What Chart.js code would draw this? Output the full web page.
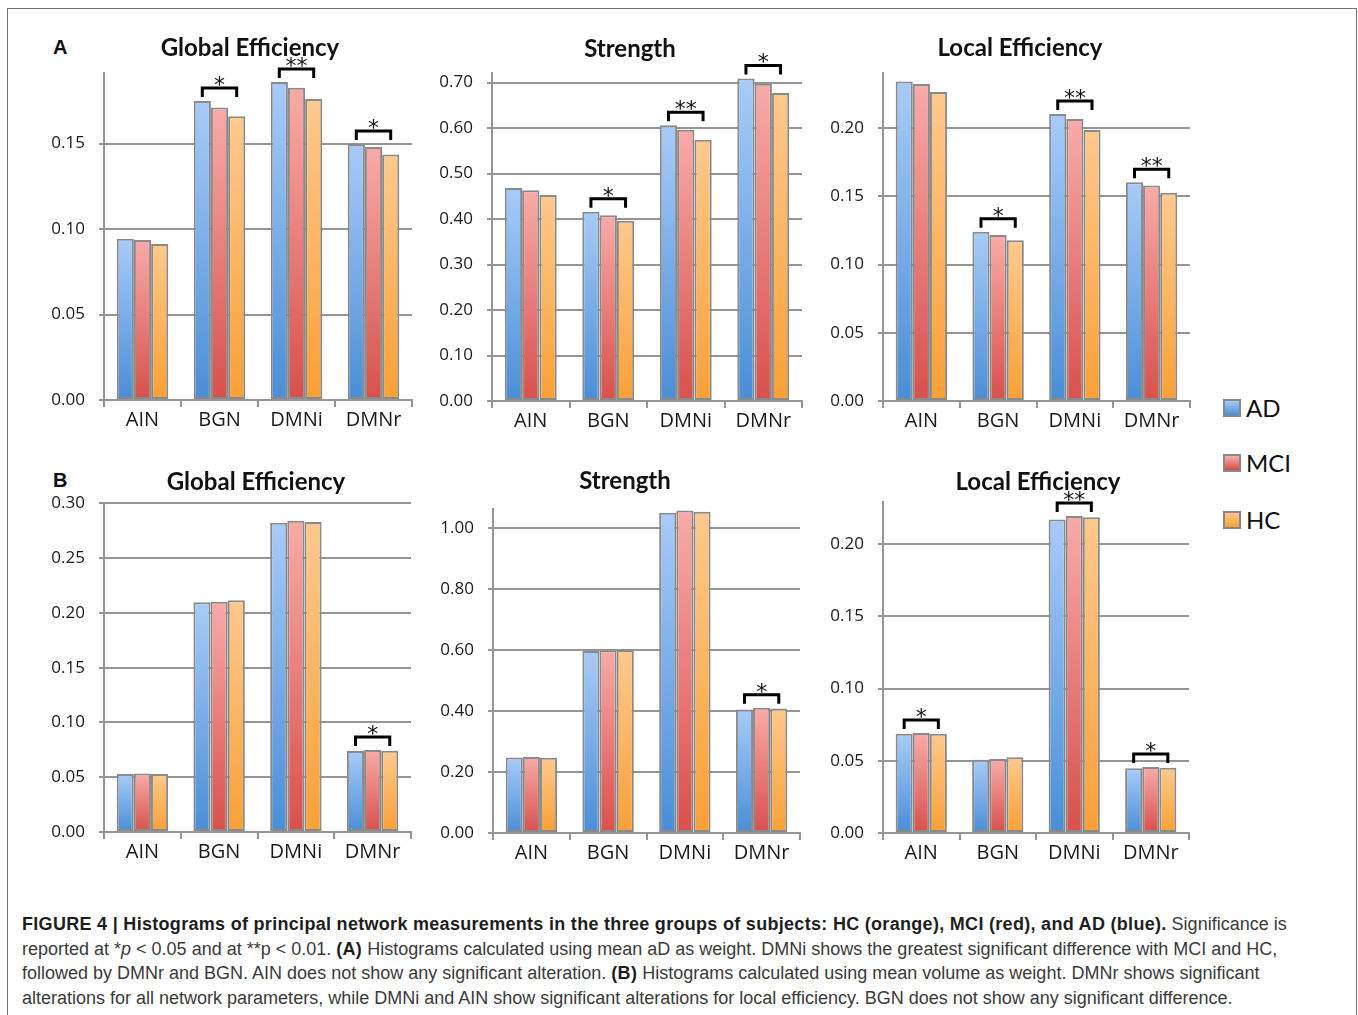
<!DOCTYPE html>
<html>
<head>
<meta charset="utf-8">
<title>Figure 4</title>
<script src="https://cdn.jsdelivr.net/npm/chart.js@4.4.1/dist/chart.umd.min.js"></script>
<style>
  body { margin: 0; background: #fff; width: 1358px; height: 1015px; position: relative; overflow: hidden; }
  #frame { position: absolute; left: 7px; top: 8px; width: 1348px; height: 1100px; border: 1px solid #707070; }
  canvas { position: absolute; }
  .tag { position: absolute; font: bold 20px "Liberation Sans", Arial, sans-serif; color: #111; }
  .leg-box { position: absolute; width: 14px; height: 14px; border: 2px solid #888; }
  .leg-text { position: absolute; font: 24px Lato, sans-serif; color: #111; line-height: 28px; }
  #caption { position: absolute; left: 22px; top: 912px; width: 1330px; font: 18px "Liberation Sans", Arial, sans-serif;
             line-height: 24.7px; color: #3a3a3a; white-space: nowrap; }
  #caption b { color: #1e1e1e; letter-spacing: 0.3px; }
</style>
</head>
<body>
<div id="frame"></div>
<div class="tag" style="left:53px;top:36px">A</div>
<div class="tag" style="left:53px;top:469px">B</div>
<div id="legend"></div>
<div id="caption">
<b>FIGURE 4 | Histograms of principal network measurements in the three groups of subjects: HC (orange), MCI (red), and AD (blue).</b> Significance is<br>
reported at *<i>p</i> &lt; 0.05 and at **p &lt; 0.01. <b>(A)</b> Histograms calculated using mean aD as weight. DMNi shows the greatest significant difference with MCI and HC,<br>
followed by DMNr and BGN. AIN does not show any significant alteration. <b>(B)</b> Histograms calculated using mean volume as weight. DMNr shows significant<br>
alterations for all network parameters, while DMNi and AIN show significant alterations for local efficiency. BGN does not show any significant difference.
</div>

<script>
const categories = ['AIN', 'BGN', 'DMNi', 'DMNr'];
const groups = ['AD', 'MCI', 'HC'];

// (A) mean aD as weight
const globalA_AD  = [0.0943, 0.1749, 0.1860, 0.1497];
const globalA_MCI = [0.0936, 0.1711, 0.1826, 0.1480];
const globalA_HC  = [0.0912, 0.1659, 0.1760, 0.1435];
const strengthA_AD  = [0.468, 0.416, 0.606, 0.709];
const strengthA_MCI = [0.463, 0.408, 0.596, 0.697];
const strengthA_HC  = [0.453, 0.396, 0.574, 0.677];
const localA_AD  = [0.2341, 0.1240, 0.2102, 0.1603];
const localA_MCI = [0.2322, 0.1216, 0.2066, 0.1579];
const localA_HC  = [0.2263, 0.1177, 0.1985, 0.1525];

// (B) mean volume as weight
const globalB_AD  = [0.0529, 0.2097, 0.2824, 0.0739];
const globalB_MCI = [0.0535, 0.2103, 0.2842, 0.0748];
const globalB_HC  = [0.0529, 0.2115, 0.2830, 0.0742];
const strengthB_AD  = [0.2475, 0.5965, 1.0490, 0.4046];
const strengthB_MCI = [0.2486, 0.5987, 1.0567, 0.4100];
const strengthB_HC  = [0.2465, 0.5998, 1.0523, 0.4078];
const localB_AD  = [0.0687, 0.0507, 0.2171, 0.0448];
const localB_MCI = [0.0692, 0.0512, 0.2196, 0.0457];
const localB_HC  = [0.0687, 0.0524, 0.2187, 0.0452];

// significance brackets: [category index, label]
const sigGlobalA   = [[1, '*'], [2, '**'], [3, '*']];
const sigStrengthA = [[1, '*'], [2, '**'], [3, '*']];
const sigLocalA    = [[1, '*'], [2, '**'], [3, '**']];
const sigGlobalB   = [[3, '*']];
const sigStrengthB = [[3, '*']];
const sigLocalB    = [[0, '*'], [2, '**'], [3, '*']];

// y axis ranges (top of axis, tick step)
const yMaxGlobalA = 0.191, yStepGlobalA = 0.05;
const yMaxStrengthA = 0.72, yStepStrengthA = 0.10;
const yMaxLocalA = 0.240, yStepLocalA = 0.05;
const yMaxGlobalB = 0.30, yStepGlobalB = 0.05;
const yMaxStrengthB = 1.06, yStepStrengthB = 0.20;
const yMaxLocalB = 0.229, yStepLocalB = 0.05;

// gradient colours per group (top, bottom)
const topColors = ['#a8cbf8', '#f8aba9', '#fdc98e'];
const bottomColors = ['#4a8ed7', '#d8504b', '#f9a035'];
const gridColor = '#959595';

function barFill(top, bottom) {
    return ctx => {
        const chart = ctx.chart;
        const y = chart.scales.y;
        if (ctx.type !== 'data' || !chart.chartArea || !y) return bottom;
        const y0 = y.getPixelForValue(ctx.raw);
        const y1 = y.getPixelForValue(0);
        if (!isFinite(y0) || !isFinite(y1) || y1 === y0) return bottom;
        const g = chart.ctx.createLinearGradient(0, y0, 0, y1);
        g.addColorStop(0, top);
        g.addColorStop(1, bottom);
        return g;
    };
}

// Draw significance brackets above bars
const sigPlugin = {
    id: 'sig',
    afterDatasetsDraw(chart, args, opts) {
        const c = chart.ctx;
        (opts.marks || []).forEach(([i, label]) => {
            const a = chart.getDatasetMeta(0).data[i];
            const m = chart.getDatasetMeta(1).data[i];
            const h = chart.getDatasetMeta(2).data[i];
            const yb = Math.min(a.y, m.y, h.y) - 13;
            c.save();
            c.strokeStyle = '#000';
            c.lineWidth = 3;
            c.beginPath();
            c.moveTo(a.x, yb + 9);
            c.lineTo(a.x, yb);
            c.lineTo(h.x, yb);
            c.lineTo(h.x, yb + 9);
            c.stroke();
            c.fillStyle = '#111';
            c.font = '22px "DejaVu Sans"';
            c.textAlign = 'center';
            c.textBaseline = 'alphabetic';
            c.fillText(label, (a.x + h.x) / 2, yb + 4);
            c.restore();
        });
    }
};

function makeChart(box, title, ad, mci, hc, yMax, yStep, marks) {
    const T = box.ty - 14.4;
    const W = box.r - box.l;
    const H = box.pb - T + 40;
    const canvas = document.createElement('canvas');
    canvas.width = W;
    canvas.height = H;
    canvas.style.left = box.l + 'px';
    canvas.style.top = T + 'px';
    document.body.appendChild(canvas);

    const series = [ad, mci, hc];
    new Chart(canvas.getContext('2d'), {
        type: 'bar',
        data: {
            labels: categories,
            datasets: groups.map((g, k) => ({
                label: g,
                data: series[k],
                backgroundColor: barFill(topColors[k], bottomColors[k]),
                borderColor: '#8a8a8a',
                borderWidth: 2,
                borderSkipped: false,
                categoryPercentage: 0.67,
                barPercentage: 1.0
            }))
        },
        options: {
            responsive: false,
            animation: false,
            layout: { padding: 0 },
            plugins: {
                legend: { display: false },
                tooltip: { enabled: false },
                title: {
                    display: true,
                    text: title,
                    color: '#111',
                    font: { family: 'Lato', weight: 'bold', size: 24 },
                    padding: { top: 0, bottom: box.pt - box.ty - 14.4 }
                },
                sig: { marks: marks }
            },
            scales: {
                x: {
                    afterFit: s => { s.height = 40; },
                    grid: { offset: true, drawOnChartArea: false, drawTicks: true, tickLength: 7, color: gridColor, lineWidth: 2 },
                    border: { color: gridColor, width: 2 },
                    ticks: { color: '#1a1a1a', padding: 1, font: { family: 'Open Sans', size: 20 } }
                },
                y: {
                    min: 0,
                    max: yMax,
                    afterFit: s => { s.width = box.pl - box.l; },
                    grid: { color: gridColor, lineWidth: 2, tickLength: 5 },
                    border: { color: gridColor, width: 2 },
                    ticks: {
                        stepSize: yStep,
                        includeBounds: false,
                        padding: 14,
                        color: '#1a1a1a',
                        font: { family: 'Open Sans', size: 17 },
                        callback: v => v.toFixed(2)
                    }
                },
                // empty right-hand spacer so the title centres over the whole panel
                spacer: {
                    type: 'linear',
                    position: 'right',
                    display: true,
                    grid: { display: false },
                    border: { display: false },
                    ticks: { display: false },
                    afterFit: s => { s.width = box.r - box.pr; }
                }
            }
        },
        plugins: [sigPlugin]
    });
}

makeChart({ l: 24, r: 476, pl: 104, pr: 412, pt: 73, pb: 400, ty: 48 }, 'Global Efficiency',
    globalA_AD, globalA_MCI, globalA_HC, yMaxGlobalA, yStepGlobalA, sigGlobalA);
makeChart({ l: 412, r: 848, pl: 492, pr: 802, pt: 73, pb: 401, ty: 49 }, 'Strength',
    strengthA_AD, strengthA_MCI, strengthA_HC, yMaxStrengthA, yStepStrengthA, sigStrengthA);
makeChart({ l: 803, r: 1237, pl: 883, pr: 1190, pt: 73, pb: 401, ty: 48 }, 'Local Efficiency',
    localA_AD, localA_MCI, localA_HC, yMaxLocalA, yStepLocalA, sigLocalA);
makeChart({ l: 24, r: 488, pl: 104, pr: 411, pt: 503, pb: 832, ty: 482 }, 'Global Efficiency',
    globalB_AD, globalB_MCI, globalB_HC, yMaxGlobalB, yStepGlobalB, sigGlobalB);
makeChart({ l: 413, r: 837, pl: 493, pr: 800, pt: 509, pb: 833, ty: 481 }, 'Strength',
    strengthB_AD, strengthB_MCI, strengthB_HC, yMaxStrengthB, yStepStrengthB, sigStrengthB);
makeChart({ l: 803, r: 1273, pl: 883, pr: 1189, pt: 502, pb: 833, ty: 482 }, 'Local Efficiency',
    localB_AD, localB_MCI, localB_HC, yMaxLocalB, yStepLocalB, sigLocalB);

// Legend
const legend = document.getElementById('legend');
const legendY = [408, 463, 520];
groups.forEach((g, k) => {
    const box = document.createElement('div');
    box.className = 'leg-box';
    box.style.left = '1223px';
    box.style.top = (legendY[k] - 9) + 'px';
    box.style.background = 'linear-gradient(' + topColors[k] + ',' + bottomColors[k] + ')';
    legend.appendChild(box);
    const txt = document.createElement('div');
    txt.className = 'leg-text';
    txt.style.left = '1246px';
    txt.style.top = (legendY[k] - 14) + 'px';
    txt.textContent = g;
    legend.appendChild(txt);
});
</script>
</body>
</html>
